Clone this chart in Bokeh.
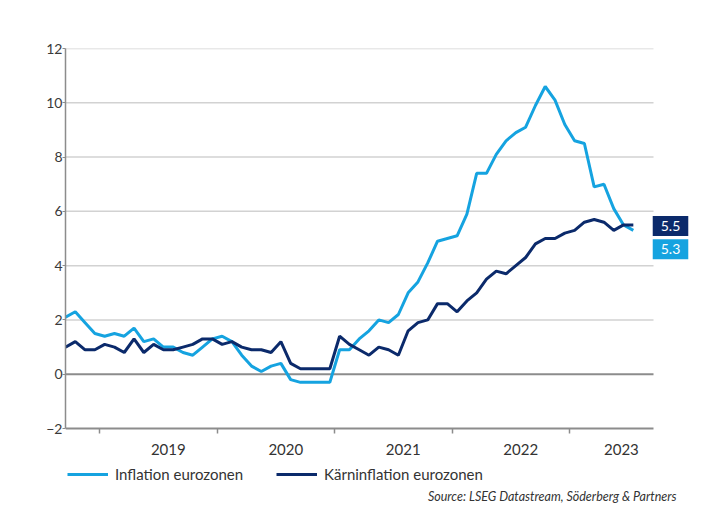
import numpy as np
import pandas as pd
from bokeh.plotting import figure
from bokeh.models import (FixedTicker, Legend, LegendItem, Label,
                          CustomJSTickFormatter)
from bokeh.embed import file_html
from bokeh.resources import INLINE

# ---- data (monthly, Sep 2018 - Jul 2023) ----
start_month = "2018-09-01"
inflation = [2.1, 2.3, 1.9, 1.5,
             1.4, 1.5, 1.4, 1.7, 1.2, 1.3, 1.0, 1.0, 0.8, 0.7, 1.0, 1.3,
             1.4, 1.2, 0.7, 0.3, 0.1, 0.3, 0.4, -0.2, -0.3, -0.3, -0.3, -0.3,
             0.9, 0.9, 1.3, 1.6, 2.0, 1.9, 2.2, 3.0, 3.4, 4.1, 4.9, 5.0,
             5.1, 5.9, 7.4, 7.4, 8.1, 8.6, 8.9, 9.1, 9.9, 10.6, 10.1, 9.2,
             8.6, 8.5, 6.9, 7.0, 6.1, 5.5, 5.3]
core = [1.0, 1.2, 0.9, 0.9,
        1.1, 1.0, 0.8, 1.3, 0.8, 1.1, 0.9, 0.9, 1.0, 1.1, 1.3, 1.3,
        1.1, 1.2, 1.0, 0.9, 0.9, 0.8, 1.2, 0.4, 0.2, 0.2, 0.2, 0.2,
        1.4, 1.1, 0.9, 0.7, 1.0, 0.9, 0.7, 1.6, 1.9, 2.0, 2.6, 2.6,
        2.3, 2.7, 3.0, 3.5, 3.8, 3.7, 4.0, 4.3, 4.8, 5.0, 5.0, 5.2,
        5.3, 5.6, 5.7, 5.6, 5.3, 5.5, 5.5]
years = ["2019", "2020", "2021", "2022", "2023"]
y_ticks = [-2, 0, 2, 4, 6, 8, 10, 12]
series_names = ["Inflation eurozonen", "Kärninflation eurozonen"]
source_text = "Source: LSEG Datastream, Söderberg & Partners"

LIGHT = "#15a3e0"
DARK = "#0b2a6b"
GRID = "#d2d2d2"
AXIS = "#8c8c8c"
FONT = "Lato"

months = pd.date_range(start_month, periods=len(inflation), freq="MS")
x = np.arange(len(months))
x_end = len(months) - 1 + 2.06

# year boundaries (between December and January) and label positions
bounds = [float(i) - 0.5 for i, m in enumerate(months) if m.month == 1]
label_pos = []
for k, b in enumerate(bounds):
    e = bounds[k + 1] if k + 1 < len(bounds) else x_end
    label_pos.append((b + e) / 2 + 1.0)

# ---- layout in pixels ----
W, H = 716, 514
FL, FT = 65, 48          # frame left / top (y = 12)
AX_R = 653               # right end of the axis area
FR = 697                 # frame right (room for value boxes)
Y_BOT_PX = 428           # pixel row of y = -2
ppu = (Y_BOT_PX - FT) / (y_ticks[-1] - y_ticks[0])
y_min = y_ticks[0] - (H - Y_BOT_PX) / ppu
x_max = x_end * (FR - FL) / (AX_R - FL)

p = figure(width=W, height=H, x_range=(0, x_max), y_range=(y_min, y_ticks[-1]),
           output_backend="svg", toolbar_location=None,
           min_border_left=FL, min_border_top=FT, min_border_right=W - FR,
           min_border_bottom=0)
p.outline_line_color = None
p.background_fill_color = "white"
p.border_fill_color = "white"
p.xgrid.grid_line_color = None
p.ygrid.grid_line_color = None

# horizontal grid lines limited to the axis area
grid_vals = [t for t in y_ticks if t not in (y_ticks[0], 0)]
p.segment(x0=[0] * len(grid_vals), x1=[x_end] * len(grid_vals),
          y0=grid_vals, y1=grid_vals, line_color=GRID, line_width=1.5)
p.segment(x0=[0], x1=[x_end], y0=[0], y1=[0], line_color=AXIS, line_width=2)

r1 = p.line(x, inflation, line_color=LIGHT, line_width=3)
r2 = p.line(x, core, line_color=DARK, line_width=3)

# y axis
p.yaxis.ticker = FixedTicker(ticks=y_ticks)
p.yaxis.bounds = (y_ticks[0], y_ticks[-1])
p.yaxis.axis_line_color = AXIS
p.yaxis.axis_line_width = 1.5
p.yaxis.major_tick_line_color = AXIS
p.yaxis.major_tick_out = 3
p.yaxis.major_tick_in = 0
p.yaxis.minor_tick_line_color = None
p.yaxis.major_label_standoff = 0
p.yaxis.major_label_text_font = FONT
p.yaxis.major_label_text_font_size = "14px"
p.yaxis.major_label_text_color = "#3a3a3a"

# x axis, placed at y = -2
p.xaxis.fixed_location = y_ticks[0]
p.xaxis.bounds = (0, x_end)
p.xaxis.ticker = FixedTicker(ticks=label_pos, minor_ticks=bounds)
p.xaxis.formatter = CustomJSTickFormatter(args=dict(labels=years),
                                          code="return labels[index];")
p.xaxis.axis_line_color = AXIS
p.xaxis.axis_line_width = 2
p.xaxis.major_tick_line_color = None
p.xaxis.minor_tick_line_color = AXIS
p.xaxis.minor_tick_line_width = 1.5
p.xaxis.minor_tick_out = 5
p.xaxis.minor_tick_in = 0
p.xaxis.major_label_standoff = 9
p.xaxis.major_label_text_font = FONT
p.xaxis.major_label_text_font_size = "15px"
p.xaxis.major_label_text_color = "#333333"

# end value boxes
box_pad = dict(left=8, right=8, top=5, bottom=5)
p.add_layout(Label(x=x_end, y=core[-1], x_offset=17, y_offset=-1,
                   text=f"{core[-1]:.1f}", text_align="center",
                   text_baseline="middle", text_color="white",
                   text_font=FONT, text_font_size="14px",
                   background_fill_color=DARK, padding=box_pad))
p.add_layout(Label(x=x_end, y=inflation[-1], x_offset=17, y_offset=-19,
                   text=f"{inflation[-1]:.1f}", text_align="center",
                   text_baseline="middle", text_color="white",
                   text_font=FONT, text_font_size="14px",
                   background_fill_color=LIGHT, padding=box_pad))

legend = Legend(items=[LegendItem(label=series_names[0], renderers=[r1]),
                       LegendItem(label=series_names[1], renderers=[r2])],
                orientation="horizontal", location=(2, H - 471 - 12),
                glyph_width=41, glyph_height=16, label_standoff=7,
                spacing=33, padding=4, margin=0,
                border_line_color=None, background_fill_alpha=0,
                label_text_font=FONT, label_text_font_size="15px",
                label_text_color="#333333")
p.add_layout(legend)

p.add_layout(Label(x=676 - FL, y=H - 496, x_units="screen", y_units="screen",
                   text=source_text, text_align="right",
                   text_baseline="middle", text_font=FONT,
                   text_font_style="italic", text_font_size="12.5px",
                   text_color="#333333"))

open("out.html", "w").write(file_html(p, INLINE))
